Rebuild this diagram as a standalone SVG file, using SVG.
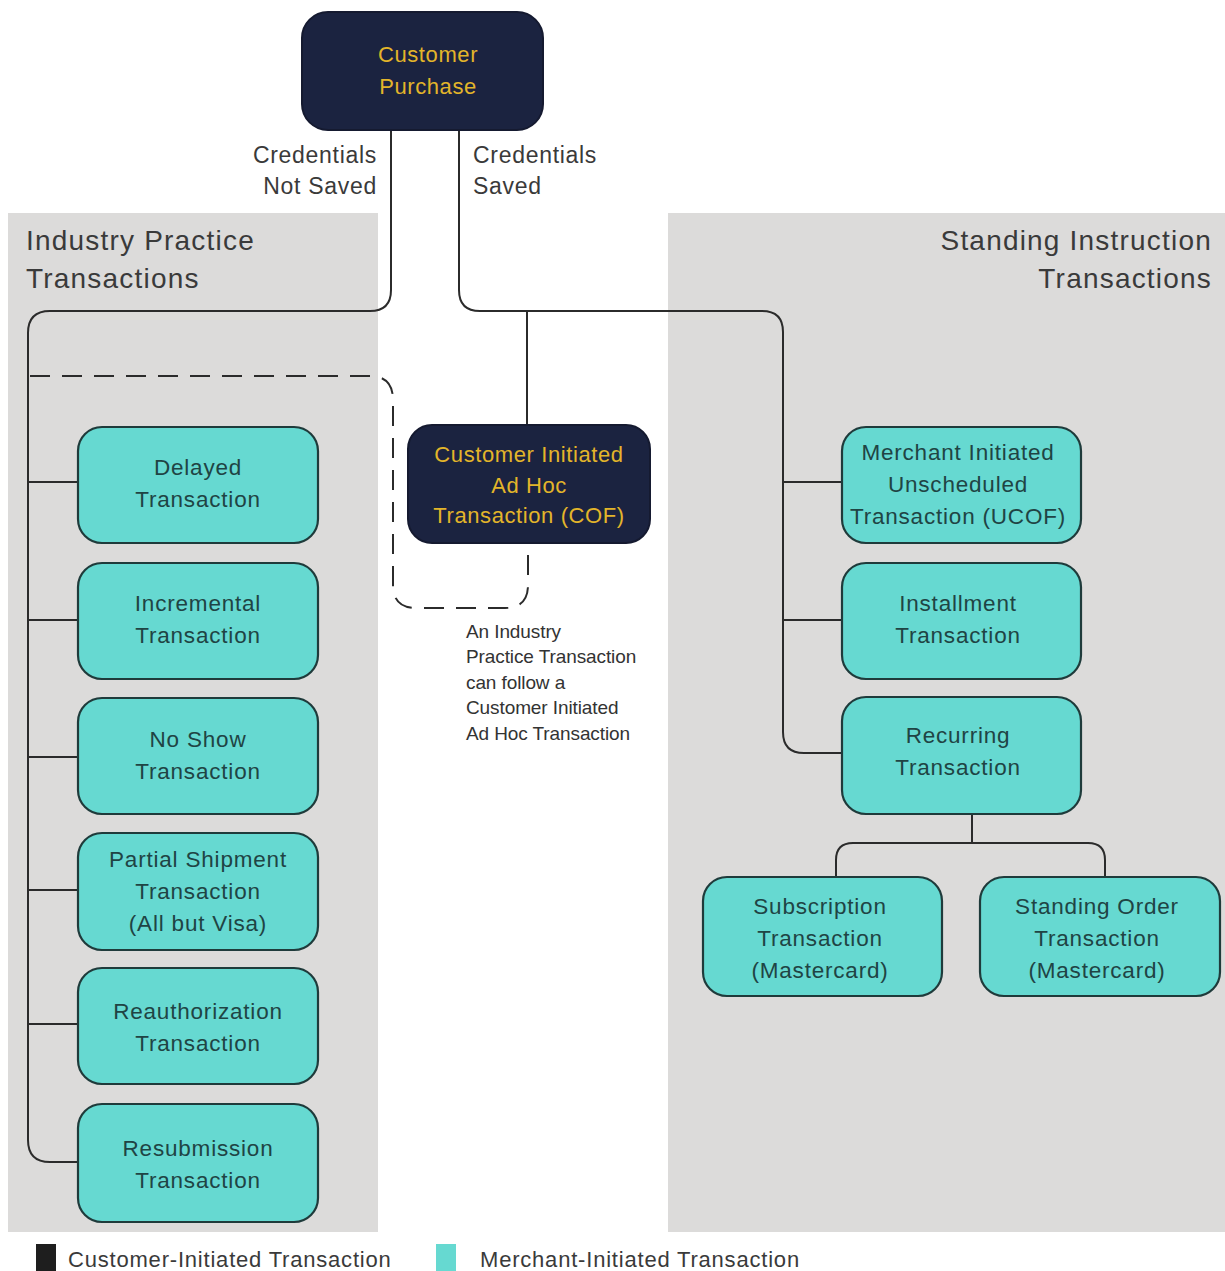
<svg xmlns="http://www.w3.org/2000/svg" width="1225" height="1271" viewBox="0 0 1225 1271">
<style>
.panel{fill:#dcdbda}
.dark{fill:#1b2340;stroke:#151a30;stroke-width:2}
.mit{fill:#66d9d1;stroke:#1f3b3b;stroke-width:2.2}
.dt{font-family:"Liberation Sans",Arial,sans-serif;font-size:22px;letter-spacing:0.6px;fill:#e3b52a;text-anchor:middle}
.mt{font-family:"Liberation Sans",Arial,sans-serif;font-size:22.5px;letter-spacing:0.8px;fill:#1f4444;text-anchor:middle}
.lbl{font-family:"Liberation Sans",Arial,sans-serif;font-size:23px;letter-spacing:0.7px;fill:#3a3a3a}
.ttl{font-family:"Liberation Sans",Arial,sans-serif;font-size:28px;letter-spacing:1.2px;fill:#3a3a3a}
.note{font-family:"Liberation Sans",Arial,sans-serif;font-size:19px;letter-spacing:-0.1px;fill:#333}
.leg{font-family:"Liberation Sans",Arial,sans-serif;font-size:22px;letter-spacing:0.8px;fill:#3a3a3a}
.ln{fill:none;stroke:#2b2b2b;stroke-width:2}
.dash{fill:none;stroke:#2b2b2b;stroke-width:2;stroke-dasharray:20 12}
</style>
<rect width="1225" height="1271" fill="#ffffff"/>
<g id="panels">
<rect class="panel" x="8" y="213" width="370" height="1019"/>
<rect class="panel" x="668" y="213" width="557" height="1019"/>
<text class="ttl" x="26" y="250">Industry Practice</text>
<text class="ttl" x="26" y="288">Transactions</text>
<text class="ttl" x="1212" y="250" text-anchor="end">Standing Instruction</text>
<text class="ttl" x="1212" y="288" text-anchor="end">Transactions</text>
</g>
<g id="connectors">
<path class="ln" d="M391 130 V290 Q391 311 370 311 H50 Q28 311 28 333 V1140 Q28 1162 50 1162 H78"/>
<path class="ln" d="M28 482 H78 M28 620 H78 M28 757 H78 M28 890 H78 M28 1024 H78"/>
<path class="ln" d="M459 130 V290 Q459 311 480 311 H762 Q783 311 783 332 V732 Q783 753 804 753 H842"/>
<path class="ln" d="M527 311 V425"/>
<path class="ln" d="M783 482 H842 M783 620 H842"/>
<path class="ln" d="M972 814 V843 M836 877 V860 Q836 843 853 843 H1088 Q1105 843 1105 860 V877"/>
<path class="dash" d="M30 376 H370 Q393 376 393 400 V585 Q393 608 416 608 H505 Q528 608 528 585 V548"/>
</g>
<g id="labels">
<text class="lbl" x="377" y="163" text-anchor="end">Credentials</text>
<text class="lbl" x="377" y="194" text-anchor="end">Not Saved</text>
<text class="lbl" x="473" y="163">Credentials</text>
<text class="lbl" x="473" y="194">Saved</text>
<text class="note" x="466" y="638">An Industry</text>
<text class="note" x="466" y="663">Practice Transaction</text>
<text class="note" x="466" y="689">can follow a</text>
<text class="note" x="466" y="714">Customer Initiated</text>
<text class="note" x="466" y="740">Ad Hoc Transaction</text>
</g>
<g id="customer-purchase">
<rect class="dark" x="302" y="12" width="241" height="118" rx="26"/>
<text class="dt" x="428" y="62">Customer</text>
<text class="dt" x="428" y="94">Purchase</text>
</g>
<g id="cof">
<rect class="dark" x="408" y="425" width="242" height="118" rx="24"/>
<text class="dt" x="529" y="462">Customer Initiated</text>
<text class="dt" x="529" y="493">Ad Hoc</text>
<text class="dt" x="529" y="523">Transaction (COF)</text>
</g>
<g id="delayed">
<rect class="mit" x="78" y="427" width="240" height="116" rx="24"/>
<text class="mt" x="198" y="475">Delayed</text>
<text class="mt" x="198" y="507">Transaction</text>
</g>
<g id="incremental">
<rect class="mit" x="78" y="563" width="240" height="116" rx="24"/>
<text class="mt" x="198" y="611">Incremental</text>
<text class="mt" x="198" y="643">Transaction</text>
</g>
<g id="noshow">
<rect class="mit" x="78" y="698" width="240" height="116" rx="24"/>
<text class="mt" x="198" y="747">No Show</text>
<text class="mt" x="198" y="779">Transaction</text>
</g>
<g id="partial">
<rect class="mit" x="78" y="833" width="240" height="117" rx="24"/>
<text class="mt" x="198" y="867">Partial Shipment</text>
<text class="mt" x="198" y="899">Transaction</text>
<text class="mt" x="198" y="931">(All but Visa)</text>
</g>
<g id="reauth">
<rect class="mit" x="78" y="968" width="240" height="116" rx="24"/>
<text class="mt" x="198" y="1019">Reauthorization</text>
<text class="mt" x="198" y="1051">Transaction</text>
</g>
<g id="resub">
<rect class="mit" x="78" y="1104" width="240" height="118" rx="24"/>
<text class="mt" x="198" y="1156">Resubmission</text>
<text class="mt" x="198" y="1188">Transaction</text>
</g>
<g id="ucof">
<rect class="mit" x="842" y="427" width="239" height="116" rx="24"/>
<text class="mt" x="958" y="460">Merchant Initiated</text>
<text class="mt" x="958" y="492">Unscheduled</text>
<text class="mt" x="958" y="524" letter-spacing="0.3px">Transaction (UCOF)</text>
</g>
<g id="installment">
<rect class="mit" x="842" y="563" width="239" height="116" rx="24"/>
<text class="mt" x="958" y="611">Installment</text>
<text class="mt" x="958" y="643">Transaction</text>
</g>
<g id="recurring">
<rect class="mit" x="842" y="697" width="239" height="117" rx="24"/>
<text class="mt" x="958" y="743">Recurring</text>
<text class="mt" x="958" y="775">Transaction</text>
</g>
<g id="subscription">
<rect class="mit" x="703" y="877" width="239" height="119" rx="24"/>
<text class="mt" x="820" y="914">Subscription</text>
<text class="mt" x="820" y="946">Transaction</text>
<text class="mt" x="820" y="978">(Mastercard)</text>
</g>
<g id="standing-order">
<rect class="mit" x="980" y="877" width="240" height="119" rx="24"/>
<text class="mt" x="1097" y="914">Standing Order</text>
<text class="mt" x="1097" y="946">Transaction</text>
<text class="mt" x="1097" y="978">(Mastercard)</text>
</g>
<g id="legend">
<rect x="36" y="1244" width="20" height="27" fill="#1e1e1e"/>
<text class="leg" x="68" y="1267">Customer-Initiated Transaction</text>
<rect x="436" y="1244" width="20" height="27" fill="#66d9d1"/>
<text class="leg" x="480" y="1267">Merchant-Initiated Transaction</text>
</g>
</svg>
